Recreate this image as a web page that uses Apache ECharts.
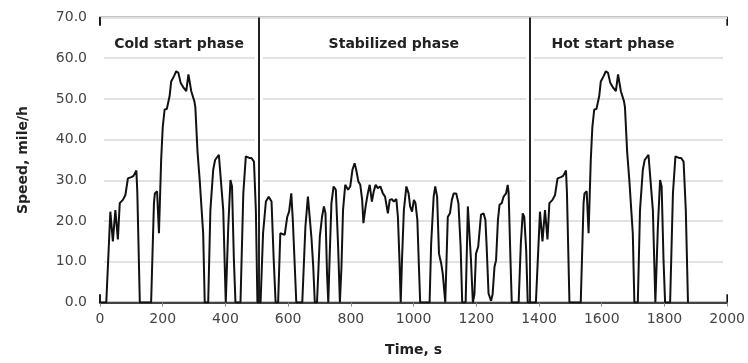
<!DOCTYPE html>
<html>
<head>
<meta charset="utf-8">
<script src="https://cdn.jsdelivr.net/npm/echarts@6/dist/echarts.min.js"></script>
<style>html,body{margin:0;padding:0;background:#fff}#c{width:748px;height:363px}</style>
</head>
<body>
<div id="c"></div>
<script>
// [time s, speed mile/h]
var coldPhase = [[0,0],[20,0],[33,22.3],[41,15],[49,22.7],[57,15.5],[63,24.4],[73,25.2],[81,26.4],[89,30.5],[100,30.8],[107,31.1],[116,32.4],[119,27],[127,0],[163,0],[172,24.4],[175,26.8],[182,27.3],[188,17],[195,35],[200,43],[206,47.4],[213,47.5],[222,50.7],[227,54.3],[236,55.6],[243,56.8],[250,56.4],[257,54],[267,52.7],[275,51.9],[282,56],[291,51.9],[301,49.4],[304,48],[311,37],[318,30],[329,17],[334,0],[345,0],[352,22.7],[361,32.6],[367,35],[379,36.3],[385,35.9],[393,22.7],[401,0],[409,18.6],[416,30.1],[421,28.5],[427,10.4],[432,0],[448,0],[457,26.8],[465,35.9],[476,35.5],[483,35.5],[491,34.6],[497,22.7],[502,0]];
var stabilizedPhase = [[505,0],[512,0],[520,17],[529,24.8],[538,26],[547,24.8],[554,10.4],[560,0],[568,0],[575,17],[580,17.4],[589,16.6],[597,21],[603,22.3],[610,26.8],[615,20],[626,0],[645,0],[655,18.6],[663,26],[669,26.4],[674,16.2],[680,8.8],[685,0],[692,0],[701,16.2],[708,21],[714,23.6],[719,21.9],[724,7],[728,0],[732,10.4],[738,24.4],[745,28.5],[752,27.7],[759,14.5],[765,0],[770,8.8],[775,22.7],[782,28.9],[791,27.7],[798,28.5],[805,32.6],[812,34.2],[817,32.6],[824,29.7],[830,28.9],[836,25.2],[840,19.5],[847,23.6],[854,26.8],[860,28.9],[867,24.8],[873,27.3],[879,28.9],[886,28.1],[894,28.5],[902,26.8],[909,26],[918,21.9],[924,25.2],[931,25.4],[937,24.8],[945,25.4],[950,21],[955,10.4],[959,0],[963,10.4],[969,22.7],[977,28.5],[984,26.8],[989,23.6],[995,22.3],[1001,25.2],[1006,24.4],[1012,20.3],[1017,8.8],[1021,0],[1051,0],[1056,14.5],[1064,26],[1069,28.5],[1075,26],[1081,12],[1088,9.6],[1093,7.1],[1101,0],[1105,10.4],[1109,21],[1116,21.9],[1122,25.2],[1128,26.8],[1136,26.8],[1143,24.4],[1150,13.7],[1155,0],[1166,0],[1173,23.6],[1178,23.2],[1183,10.4],[1189,0],[1194,2],[1199,12],[1206,13.7],[1215,21.6],[1223,21.9],[1229,20.3],[1233,13.7],[1239,2.2],[1247,0.4],[1252,2],[1258,8.8],[1263,10.4],[1269,20.3],[1274,24],[1281,24.4],[1287,26],[1295,26.8],[1300,28.9],[1303,27],[1309,10.4],[1313,0],[1335,0],[1342,14.5],[1348,21.9],[1353,21],[1359,12.9],[1364,0],[1370,0]];
var hotPhase = [[1370,0],[1390,0],[1403,22.3],[1411,15],[1419,22.7],[1427,15.5],[1433,24.4],[1443,25.2],[1451,26.4],[1459,30.5],[1470,30.8],[1477,31.1],[1486,32.4],[1489,27],[1497,0],[1533,0],[1542,24.4],[1545,26.8],[1552,27.3],[1558,17],[1565,35],[1570,43],[1576,47.4],[1583,47.5],[1592,50.7],[1597,54.3],[1606,55.6],[1613,56.8],[1620,56.4],[1627,54],[1637,52.7],[1645,51.9],[1652,56],[1661,51.9],[1671,49.4],[1674,48],[1681,37],[1688,30],[1699,17],[1704,0],[1715,0],[1722,22.7],[1731,32.6],[1737,35],[1749,36.3],[1755,35.9],[1763,22.7],[1771,0],[1779,18.6],[1786,30.1],[1791,28.5],[1797,10.4],[1802,0],[1818,0],[1827,26.8],[1835,35.9],[1846,35.5],[1853,35.5],[1861,34.6],[1868,22.7],[1875,0]];
var phaseBounds = [505, 1369];
var phaseNames = ['Cold start phase', 'Stabilized phase', 'Hot start phase'];
var phaseLabelX = [252, 937, 1636];
var xTicks = {min: 0, max: 2000, step: 200};
var yTicks = {min: 0, max: 70, step: 10};

var FONT = 'DejaVu Sans, Liberation Sans, sans-serif';
var chart = echarts.init(document.getElementById('c'), null, {renderer: 'canvas'});

var whiteBands = [0].concat(phaseBounds, [2000]).map(function (x) {
  return [{coord: [x, 2]}, {coord: [x, 68]}];
});
var blackLines = phaseBounds.map(function (x) {
  return [{coord: [x, 0]}, {coord: [x, 70]}];
});

chart.setOption({
  animation: false,
  backgroundColor: '#fff',
  grid: {left: 100, right: 20, top: 17.5, bottom: 60.5, show: true, borderColor: '#111', borderWidth: 1.6, backgroundColor: 'transparent', z: 0},
  xAxis: {
    type: 'value', min: xTicks.min, max: xTicks.max, interval: xTicks.step,
    name: 'Time, s', nameLocation: 'middle', nameGap: 41,
    nameTextStyle: {fontFamily: FONT, fontSize: 14, fontWeight: 'bold', color: '#222'},
    axisLine: {show: true, lineStyle: {color: '#111', width: 1.6}},
    axisTick: {show: true, length: 4, lineStyle: {color: '#888'}},
    axisLabel: {margin: 10, fontFamily: FONT, fontSize: 14, color: '#444', formatter: function (v) { return String(v); }},
    splitLine: {show: false}
  },
  yAxis: {
    type: 'value', min: yTicks.min, max: yTicks.max, interval: yTicks.step,
    name: 'Speed, mile/h', nameLocation: 'middle', nameGap: 70, nameRotate: 90,
    nameTextStyle: {fontFamily: FONT, fontSize: 14, fontWeight: 'bold', color: '#222'},
    axisLine: {show: true, lineStyle: {color: '#111', width: 1.6}},
    axisTick: {show: false},
    axisLabel: {margin: 13, fontFamily: FONT, fontSize: 14, color: '#444', formatter: function (v) { return v.toFixed(1); }},
    splitLine: {show: true, lineStyle: {color: '#e2e2e2', width: 2}}
  },
  series: [
    {
      type: 'line', data: [], z: 1, silent: true,
      markLine: {silent: true, z: 1, symbol: 'none', label: {show: false}, animation: false,
        lineStyle: {color: '#fff', width: 8, type: 'solid'}, data: whiteBands}
    },
    {
      type: 'line', data: [], z: 2, silent: true,
      markLine: {silent: true, z: 2, symbol: 'none', label: {show: false}, animation: false,
        lineStyle: {color: '#222', width: 2, type: 'solid'}, data: blackLines}
    },
    {
      type: 'line', z: 4, silent: true,
      data: coldPhase.concat(stabilizedPhase, hotPhase),
      showSymbol: false, symbol: 'none',
      lineStyle: {color: '#111', width: 2},
      markPoint: {
        symbol: 'rect', symbolSize: 0, silent: true,
        label: {show: true, position: 'inside', fontFamily: FONT, fontSize: 14, fontWeight: 'bold', color: '#222'},
        data: phaseNames.map(function (n, i) { return {coord: [phaseLabelX[i], 63.5], value: n, label: {formatter: n}}; })
      }
    }
  ]
});
</script>
</body>
</html>
